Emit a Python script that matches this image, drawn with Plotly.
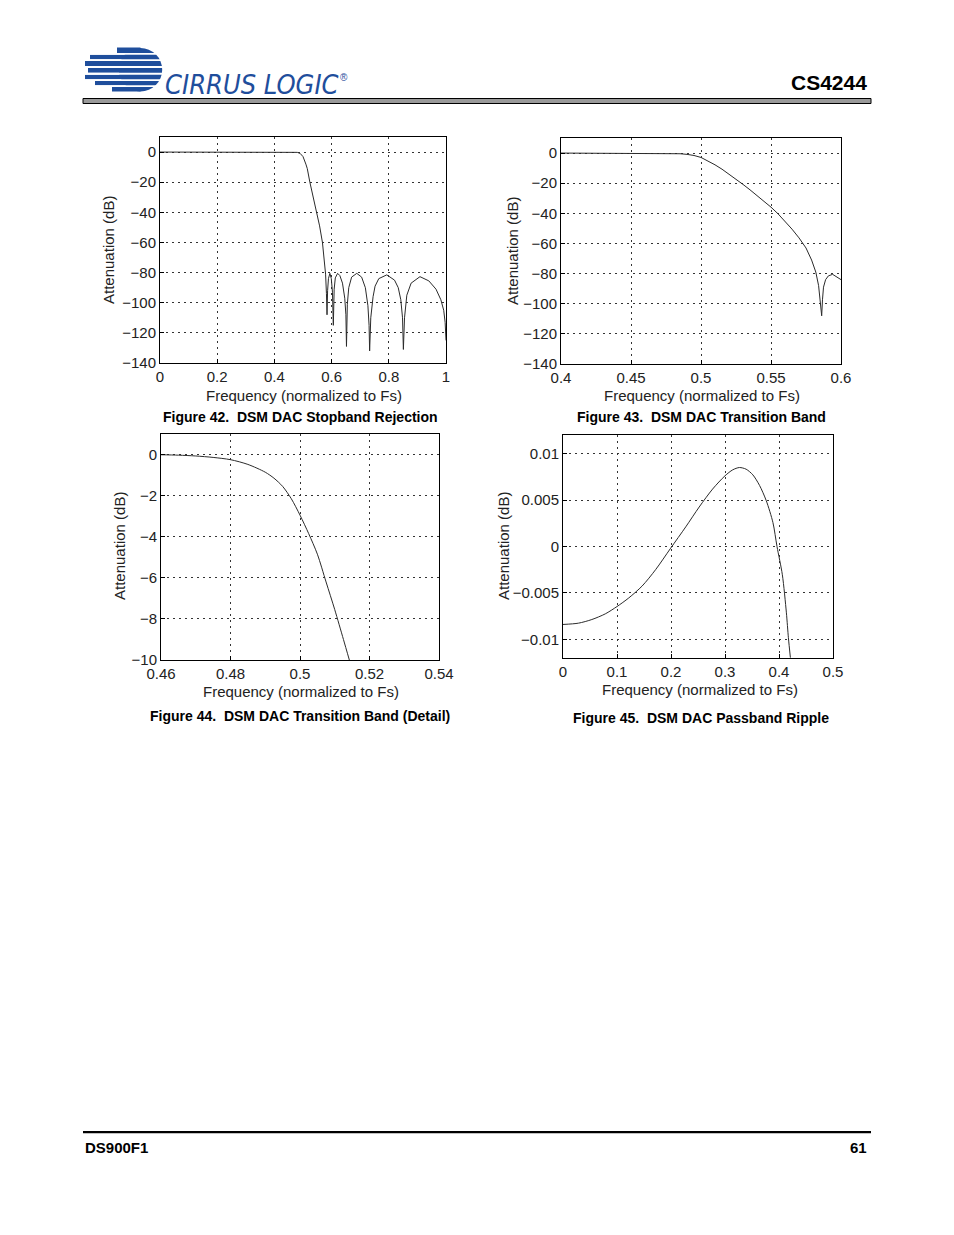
import plotly.graph_objects as go

W, H = 954, 1235
OFF = 8  # the page body margin that offsets the plot div

# ---------------- data ----------------
# Figure 42: DSM DAC Stopband Rejection
f42 = [0.0, 0.2, 0.4, 0.45, 0.47, 0.48, 0.49, 0.50, 0.51, 0.515, 0.524, 0.535, 0.548,
       0.558, 0.568, 0.575, 0.579, 0.582, 0.584,
       0.586, 0.589, 0.594, 0.599, 0.603, 0.606,
       0.609, 0.613, 0.621, 0.629, 0.638, 0.646, 0.650, 0.652,
       0.655, 0.660, 0.670, 0.688, 0.705, 0.718, 0.727, 0.731, 0.733,
       0.737, 0.745, 0.752, 0.765, 0.793, 0.820, 0.833, 0.842, 0.848, 0.851,
       0.855, 0.863, 0.878, 0.909, 0.940, 0.965, 0.982, 0.992, 0.997, 1.0]
a42 = [0.0, 0.0, 0.0, 0.0, -0.05, -0.2, -0.9, -3.0, -8.0, -11.0, -20.0, -29.0, -40.0,
       -49.0, -60.0, -71.0, -81.0, -94.0, -108.0,
       -92.0, -84.0, -80.5, -84.0, -93.0, -115.0,
       -91.0, -83.5, -80.5, -82.0, -87.0, -97.0, -108.0, -129.0,
       -101.0, -90.0, -83.0, -80.5, -83.0, -90.0, -102.0, -115.0, -132.0,
       -110.0, -96.0, -89.0, -84.0, -81.5, -85.0, -90.0, -98.0, -110.0, -131.0,
       -110.0, -95.0, -87.0, -82.7, -85.5, -91.0, -98.0, -105.0, -113.0, -125.0]

# Figure 43: DSM DAC Transition Band
f43 = [0.40, 0.42, 0.44, 0.46, 0.47, 0.48, 0.485, 0.49, 0.495, 0.50, 0.505, 0.51, 0.515,
       0.52, 0.525, 0.53, 0.535, 0.54, 0.545, 0.55, 0.555, 0.56, 0.565, 0.57, 0.575,
       0.579, 0.582, 0.584, 0.5852, 0.5862, 0.5868, 0.5875, 0.589, 0.591, 0.594, 0.597, 0.60]
a43 = [0.0, -0.01, -0.03, -0.05, -0.08, -0.26, -0.45, -0.86, -1.6, -2.9, -5.2, -7.8, -10.7,
       -13.9, -17.3, -20.8, -24.4, -28.1, -31.9, -35.9, -40.3, -45.1, -50.5, -56.3, -63.0,
       -71.0, -79.0, -88.0, -97.0, -108.0, -97.0, -89.0, -84.0, -81.5, -80.5, -82.0, -84.0]

# Figure 44: DSM DAC Transition Band (Detail)
f44 = [0.46, 0.465, 0.47, 0.475, 0.48, 0.485, 0.49, 0.4925, 0.495, 0.4975, 0.50,
       0.5025, 0.505, 0.5075, 0.51, 0.5125, 0.5142]
a44 = [-0.01, -0.03, -0.07, -0.14, -0.25, -0.48, -0.86, -1.15, -1.55, -2.15, -2.95,
       -3.85, -4.85, -6.2, -7.55, -9.0, -10.0]

# Figure 45: DSM DAC Passband Ripple
f45 = [0.0, 0.0286, 0.0534, 0.0783, 0.1, 0.1217, 0.1466, 0.1714, 0.1994, 0.2273, 0.2522,
       0.2770, 0.3, 0.3143, 0.3267, 0.3391, 0.3516, 0.3640, 0.3764, 0.3888, 0.3963,
       0.4062, 0.4137, 0.4174, 0.4211]
a45 = [-0.00839, -0.00825, -0.00786, -0.00725, -0.00646, -0.00554, -0.00425, -0.00250,
       -0.00018, 0.00211, 0.00425, 0.00618, 0.00761, 0.00825, 0.00850, 0.00832, 0.00771,
       0.00657, 0.00493, 0.00257, 0.0, -0.00304, -0.00714, -0.00982, -0.01196]

# tick labels
x42_ticks = [0, 0.2, 0.4, 0.6, 0.8, 1]
x42_text = ["0", "0.2", "0.4", "0.6", "0.8", "1"]
y_db_ticks = [-140, -120, -100, -80, -60, -40, -20, 0]
y_db_text = ["\u2212140", "\u2212120", "\u2212100", "\u221280", "\u221260", "\u221240", "\u221220", "0"]
x43_ticks = [0.4, 0.45, 0.5, 0.55, 0.6]
x43_text = ["0.4", "0.45", "0.5", "0.55", "0.6"]
x44_ticks = [0.46, 0.48, 0.5, 0.52, 0.54]
x44_text = ["0.46", "0.48", "0.5", "0.52", "0.54"]
y44_ticks = [-10, -8, -6, -4, -2, 0]
y44_text = ["\u221210", "\u22128", "\u22126", "\u22124", "\u22122", "0"]
x45_ticks = [0, 0.1, 0.2, 0.3, 0.4, 0.5]
x45_text = ["0", "0.1", "0.2", "0.3", "0.4", "0.5"]
y45_ticks = [-0.01, -0.005, 0, 0.005, 0.01]
y45_text = ["\u22120.01", "\u22120.005", "0", "0.005", "0.01"]

captions = ["Figure 42.\u00a0 DSM DAC Stopband Rejection",
            "Figure 43.\u00a0 DSM DAC Transition Band",
            "Figure 44.\u00a0 DSM DAC Transition Band (Detail)",
            "Figure 45.\u00a0 DSM DAC Passband Ripple"]
x_title = "Frequency (normalized to Fs)"
y_title = "Attenuation (dB)"

# ---------------- helpers ----------------
def px(x):
    return (x - OFF) / W

def py(y):
    return 1 - (y - OFF) / H

FONT = "Liberation Sans, Arial, Helvetica, sans-serif"
TXT = "#222222"
LINE = dict(color="#2b2b2b", width=1)

fig = go.Figure()
fig.add_trace(go.Scatter(x=f42, y=a42, xaxis="x", yaxis="y", mode="lines", line=LINE))
fig.add_trace(go.Scatter(x=f43, y=a43, xaxis="x2", yaxis="y2", mode="lines", line=LINE))
fig.add_trace(go.Scatter(x=f44, y=a44, xaxis="x3", yaxis="y3", mode="lines",
                         line=dict(LINE, shape="spline", smoothing=0.8)))
fig.add_trace(go.Scatter(x=f45, y=a45, xaxis="x4", yaxis="y4", mode="lines",
                         line=dict(LINE, shape="spline", smoothing=0.8)))

def ax(domain, rng, tv, tt, anchor):
    return dict(domain=domain, range=rng, tickvals=tv, ticktext=tt, anchor=anchor,
                automargin=False,
                showline=True, mirror=True, linecolor="black", linewidth=1,
                ticks="inside", ticklen=4, tickcolor="black",
                showgrid=True, gridcolor="#333333", griddash="2px,4px", gridwidth=1,
                zeroline=False, fixedrange=True,
                tickfont=dict(family=FONT, size=15, color=TXT))

boxes = [  # (x0, x1, y0, y1) in page pixels
    (160, 446, 137, 363),
    (561, 841, 138, 364),
    (161, 439, 434, 660),
    (563, 833, 435, 658),
]

def dx(b):
    return [px(b[0]), px(b[1])]

def dy(b):
    return [py(b[3]), py(b[2])]

fig.update_layout(
    width=W, height=H, autosize=False, margin=dict(l=0, r=0, t=0, b=0, pad=0, autoexpand=False),
    paper_bgcolor="white", plot_bgcolor="white", showlegend=False,
    xaxis=ax(dx(boxes[0]), [0, 1], x42_ticks, x42_text, "y"),
    yaxis=ax(dy(boxes[0]), [-140, 10], y_db_ticks, y_db_text, "x"),
    xaxis2=ax(dx(boxes[1]), [0.4, 0.6], x43_ticks, x43_text, "y2"),
    yaxis2=ax(dy(boxes[1]), [-140, 10], y_db_ticks, y_db_text, "x2"),
    xaxis3=ax(dx(boxes[2]), [0.46, 0.54], x44_ticks, x44_text, "y3"),
    yaxis3=ax(dy(boxes[2]), [-10, 1], y44_ticks, y44_text, "x3"),
    xaxis4=ax(dx(boxes[3]), [0, 0.5], x45_ticks, x45_text, "y4"),
    yaxis4=ax(dy(boxes[3]), [-0.012, 0.012], y45_ticks, y45_text, "x4"),
)

ann = []
def text(x, y, s, size, bold=False, xanchor="center", angle=0, color=TXT, family=FONT, style="normal"):
    ann.append(dict(x=px(x), y=py(y), xref="paper", yref="paper", text=s, showarrow=False,
                    xanchor=xanchor, yanchor="middle", textangle=angle,
                    font=dict(family=family, size=size, color=color,
                              weight="bold" if bold else "normal", style=style)))

# axis titles
text(304, 395, x_title, 15)
text(702, 395, x_title, 15)
text(301, 691, x_title, 15)
text(700, 689, x_title, 15)
text(108, 250, y_title, 15, angle=-90)
text(512, 251, y_title, 15, angle=-90)
text(120, 546, y_title, 15, angle=-90)
text(504, 546, y_title, 15, angle=-90)

# captions
text(300, 417, captions[0], 14, bold=True, color="black")
text(701, 417, captions[1], 14, bold=True, color="black")
text(300, 716, captions[2], 14, bold=True, color="black")
text(701, 718, captions[3], 14, bold=True, color="black")

# header / footer
text(869, 82, "CS4244", 21, bold=True, xanchor="right", color="black")
text(83, 1147, "DS900F1", 15, bold=True, xanchor="left", color="black")
text(869, 1147, "61", 15, bold=True, xanchor="right", color="black")

BLUE = "#1f4e9c"
text(163, 84, "CIRRUS LOGIC", 27, xanchor="left", color=BLUE,
     family="DejaVu Sans Condensed, Liberation Sans Narrow, Arial Narrow, sans-serif", style="italic")
text(344, 77, "\u00ae", 10, color=BLUE)

fig.update_layout(annotations=ann)

shapes = []
def rect(x0, y0, x1, y1, fill, line_color=None, lw=0):
    shapes.append(dict(type="rect", xref="paper", yref="paper",
                       x0=px(x0), x1=px(x1), y0=py(y1), y1=py(y0),
                       fillcolor=fill, line=dict(color=line_color or fill, width=lw), layer="above"))

# header rule
rect(83, 98.5, 871, 103.5, "#9a9a9a", "black", 1)
# footer rule
rect(83, 1131, 871, 1133.3, "black")

# logo: blue disc with stripes
cx, cy, r = 140.5, 69.7, 21.7
shapes.append(dict(type="circle", xref="paper", yref="paper",
                   x0=px(cx - r), x1=px(cx + r), y0=py(cy + r), y1=py(cy - r),
                   fillcolor=BLUE, line=dict(color=BLUE, width=0), layer="above"))
bars = [(47.5, 53.0, 117), (54.7, 59.3, 90), (61.0, 66.0, 85), (68.0, 72.7, 88),
        (74.7, 79.3, 85), (81.0, 85.3, 95), (87.0, 91.5, 112)]
for y0, y1, xl in bars:
    rect(xl, y0, cx, y1, BLUE)
gaps = [(53.0, 54.7), (59.3, 61.0), (66.0, 68.0), (72.7, 74.7), (79.3, 81.0), (85.3, 87.0)]
for y0, y1 in gaps:
    rect(82, y0, 166, y1, "white")

fig.update_layout(shapes=shapes)

fig.write_html("out.html")
